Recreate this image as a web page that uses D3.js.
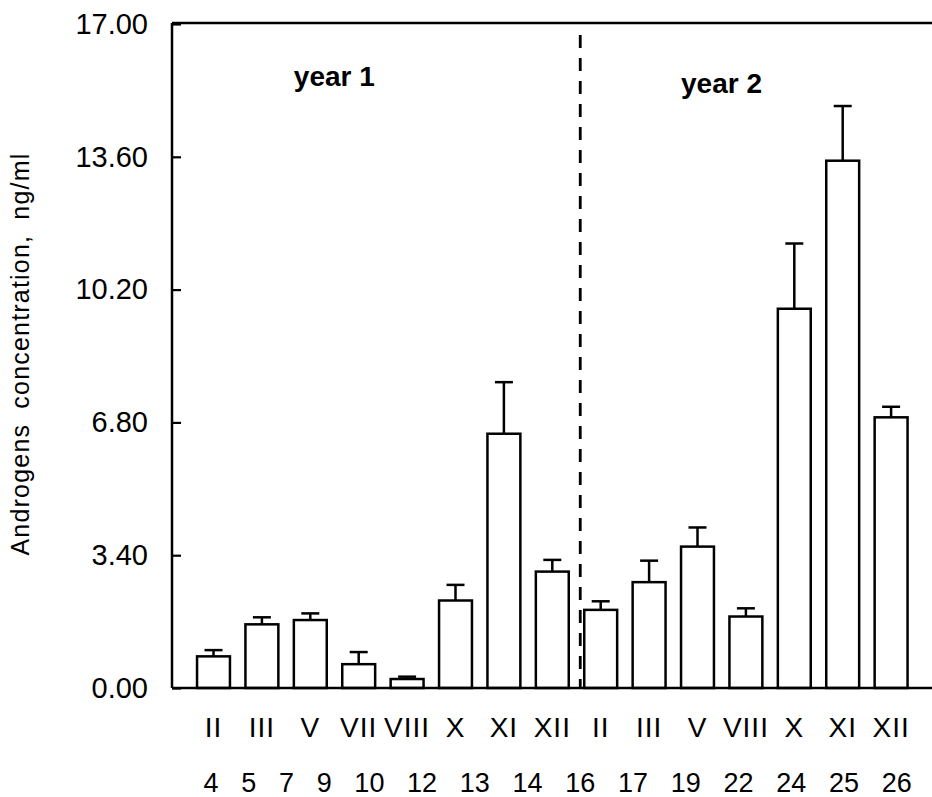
<!DOCTYPE html>
<html>
<head>
<meta charset="utf-8">
<script src="https://cdn.jsdelivr.net/npm/d3@7"></script>
<style>
  body { margin: 0; background: #fff; }
  text { font-family: "Liberation Sans", Arial, sans-serif; fill: #000; }
</style>
</head>
<body>
<svg id="chart"></svg>
<script>
// months sampled, and the week numbers printed under them
const months = ["II", "III", "V", "VII", "VIII", "X", "XI", "XII", "II", "III", "V", "VIII", "X", "XI", "XII"];
const weeks = ["4", "5", "7", "9", "10", "12", "13", "14", "16", "17", "19", "22", "24", "25", "26"];
// mean androgen concentration (ng/ml) and standard error
const means = [0.81, 1.63, 1.74, 0.61, 0.23, 2.24, 6.51, 2.98, 2.00, 2.71, 3.62, 1.83, 9.71, 13.50, 6.93];
const errors = [0.16, 0.18, 0.17, 0.31, 0.06, 0.40, 1.32, 0.30, 0.22, 0.55, 0.49, 0.21, 1.67, 1.40, 0.27];
const yTicks = [0, 3.4, 6.8, 10.2, 13.6, 17];

const width = 932;
const height = 797;
const plotLeft = 172, plotRight = 932, plotTop = 24, plotBottom = 688;

const svg = d3.select("#chart")
  .attr("width", width)
  .attr("height", height);

const idx = d3.range(months.length);

const x = d3.scaleBand()
  .domain(idx)
  .range([189.3, 915.3])
  .paddingInner(0.32)
  .paddingOuter(0.16);

const y = d3.scaleLinear()
  .domain([0, 17])
  .range([plotBottom, plotTop]);

// bars
svg.append("g")
  .selectAll("rect")
  .data(idx)
  .enter()
  .append("rect")
  .attr("x", i => x(i))
  .attr("y", i => y(means[i]))
  .attr("width", x.bandwidth())
  .attr("height", i => y(0) - y(means[i]))
  .attr("fill", "#fff")
  .attr("stroke", "#000")
  .attr("stroke-width", 2.5);

// error bars (upper only)
const err = svg.append("g").attr("stroke", "#000").attr("stroke-width", 2.5);
err.selectAll("line.v")
  .data(idx)
  .enter()
  .append("line")
  .attr("class", "v")
  .attr("x1", i => x(i) + x.bandwidth() / 2)
  .attr("x2", i => x(i) + x.bandwidth() / 2)
  .attr("y1", i => y(means[i]))
  .attr("y2", i => y(means[i] + errors[i]));
err.selectAll("line.cap")
  .data(idx)
  .enter()
  .append("line")
  .attr("class", "cap")
  .attr("x1", i => x(i) + x.bandwidth() / 2 - 9)
  .attr("x2", i => x(i) + x.bandwidth() / 2 + 9)
  .attr("y1", i => y(means[i] + errors[i]))
  .attr("y2", i => y(means[i] + errors[i]));

// frame: top and bottom lines
const frame = svg.append("g").attr("stroke", "#000").attr("stroke-width", 2.5);
frame.append("line").attr("x1", plotLeft).attr("x2", plotRight).attr("y1", y(0)).attr("y2", y(0));
frame.append("line").attr("x1", plotLeft).attr("x2", plotRight).attr("y1", plotTop - 1).attr("y2", plotTop - 1);

const yAxis = svg.append("g")
  .attr("transform", `translate(${plotLeft},0)`)
  .call(d3.axisLeft(y).tickValues(yTicks).tickFormat(d3.format(".2f")).tickSize(-9).tickPadding(24));
yAxis.select(".domain").attr("stroke-width", 2.5).attr("d", `M0,${plotTop - 1}V${plotBottom}`);
yAxis.selectAll(".tick line").attr("stroke-width", 2.2);
yAxis.selectAll(".tick text")
  .attr("font-size", 29)
  .style("font-family", "'Liberation Sans', Arial, sans-serif");

// dashed separator between the two years
svg.append("line")
  .attr("x1", x(8) - 4).attr("x2", x(8) - 4)
  .attr("y1", 35).attr("y2", y(0))
  .attr("stroke", "#000")
  .attr("stroke-width", 2.8)
  .attr("stroke-dasharray", "13,10");

// month labels
const xAxis = svg.append("g")
  .attr("transform", `translate(0,${y(0)})`)
  .call(d3.axisBottom(x).tickFormat(i => months[i]).tickSize(0).tickPadding(29));
xAxis.select(".domain").remove();
xAxis.selectAll(".tick text")
  .attr("font-size", 28)
  .attr("letter-spacing", 1)
  .style("font-family", "'Liberation Sans', Arial, sans-serif");

// week numbers row
svg.append("text")
  .attr("x", x(0) + x.bandwidth() / 2 - 10)
  .attr("y", 792)
  .attr("font-size", 27)
  .attr("word-spacing", 15.2)
  .text(weeks.join(" "));

// year labels
svg.append("text")
  .attr("x", x(2))
  .attr("y", y(15.4))
  .attr("font-size", 28)
  .attr("font-weight", "bold")
  .text("year 1");
svg.append("text")
  .attr("x", x(10))
  .attr("y", y(15.23))
  .attr("font-size", 28)
  .attr("font-weight", "bold")
  .text("year 2");

// y axis title
svg.append("text")
  .attr("transform", "translate(29,354) rotate(-90)")
  .attr("text-anchor", "middle")
  .attr("font-size", 25)
  .attr("letter-spacing", 1.2)
  .attr("word-spacing", 7)
  .text("Androgens concentration, ng/ml");
</script>
</body>
</html>
